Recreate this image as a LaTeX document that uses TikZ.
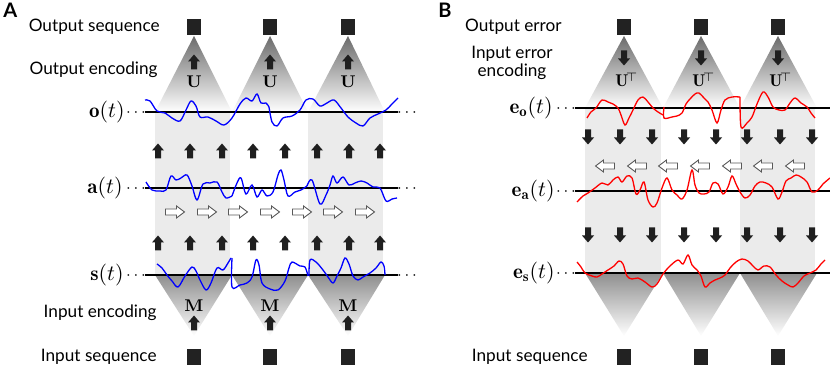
\documentclass[tikz,border=0pt]{standalone}
\usepackage{fontspec}
\setsansfont{Lato}
\begin{document}
\begin{tikzpicture}[x=0.5pt,y=-0.5pt]
\useasboundingbox (0,0) rectangle (830,368);
\definecolor{colgray}{HTML}{EBEBEB}
\definecolor{sqcol}{HTML}{222222}
\tikzset{
  lbl/.style={font=\sffamily\fontsize{8.6}{10}\selectfont, anchor=east, inner sep=0pt},
  mlbl/.style={font=\fontsize{10.5}{12}\selectfont, anchor=east, inner sep=0pt},
  seqsq/.style={fill=sqcol, minimum width=7pt, minimum height=8pt, inner sep=0pt},
  bcurve/.style={blue, line width=0.65pt, smooth, tension=0.55},
  rcurve/.style={red, line width=0.65pt, smooth, tension=0.55},
  axline/.style={black, line width=0.75pt},
  blk/.style={fill=black!88},
  hol/.style={fill=white, draw=black!65, line width=0.45pt},
  dotlbl/.style={inner sep=0pt, font=\fontsize{8}{10}\selectfont, anchor=base},
  toptri/.style={top color=black!58, bottom color=white},
  bottri/.style={top color=black!44, bottom color=white},
}
\newcommand{\UpBlk}[2]{\fill[blk] (#1,#2) ++(0,-7.5) -- ++(6,7) -- ++(-3,0) -- ++(0,8) -- ++(-6,0) -- ++(0,-8) -- ++(-3,0) -- cycle;}
\newcommand{\DnBlk}[2]{\fill[blk] (#1,#2) ++(0,7.5) -- ++(6,-7) -- ++(-3,0) -- ++(0,-8) -- ++(-6,0) -- ++(0,8) -- ++(-3,0) -- cycle;}
\newcommand{\RtHol}[2]{\filldraw[hol] (#1,#2) ++(-9.5,-3) -- ++(11,0) -- ++(0,-3) -- ++(8,6) -- ++(-8,6) -- ++(0,-3) -- ++(-11,0) -- cycle;}
\newcommand{\LtHol}[2]{\filldraw[hol] (#1,#2) ++(9.5,-3) -- ++(-11,0) -- ++(0,-3) -- ++(-8,6) -- ++(8,6) -- ++(0,-3) -- ++(11,0) -- cycle;}

% ================= PANEL A =================
\node[font=\sffamily\bfseries\fontsize{10}{12}\selectfont, anchor=north west, inner sep=0pt] (labA) at (3,3) {A};
\fill[colgray] (155,112) rectangle (230,275);
\fill[colgray] (308,112) rectangle (383,275);
\foreach \c/\l/\r in {194/155/232, 270/232/308, 348/308/385}{
  \shade[toptri] (\c,36) -- (\r,112) -- (\l,112) -- cycle;
  \shade[bottri] (\l,275) -- (\r,275) -- (\c,336) -- cycle;
}
\foreach \c [count=\i] in {194,270,348}{
  \node[seqsq] (oA\i) at (\c,27) {};
  \node[seqsq] (iA\i) at (\c,357) {};
  \node[font=\bfseries\fontsize{8.5}{10}\selectfont] (UA\i) at (\c,82) {U};
  \node[font=\bfseries\fontsize{8.5}{10}\selectfont] (MA\i) at (\c,306) {M};
  \UpBlk{\c}{62}
  \UpBlk{\c}{323}
}
\node[lbl] (tOS) at (160,27) {Output sequence};
\node[lbl] (tOE) at (158,70) {Output encoding};
\node[lbl] (tIE) at (157,313) {Input encoding};
\node[lbl] (tIS) at (157,357) {Input sequence};
\draw[axline] (145,112) -- (398,112);
\draw[axline] (145,188) -- (398,188);
\draw[axline] (145,275) -- (398,275);
\node[mlbl] (lo) at (125,112) {$\mathbf{o}(t)$};
\node[mlbl] (la) at (123,188) {$\mathbf{a}(t)$};
\node[mlbl] (ls) at (124,275) {$\mathbf{s}(t)$};
\foreach \yy in {112,188,275}{
  \node[dotlbl] at (136,\yy+5) {$\cdots$};
  \node[dotlbl] at (407,\yy+5) {$\cdots$};
}
\foreach \x in {158,190,222,253,285,317,349,380}{
  \UpBlk{\x}{151}
  \UpBlk{\x}{243}
}
\foreach \x in {175,207,238,270,302,333,365}{
  \RtHol{\x}{212}
}
\draw[bcurve] plot coordinates {(145,100) (150,101) (157,111) (165,113) (172,118) (180,121) (186,110) (191,101) (196,106) (200,117) (208,117) (216,121) (224,125) (232,118) (240,104) (246,98) (252,101) (257,94) (261,103) (266,103) (269,107)};
\draw[bcurve] plot coordinates {(269,107) (272,122) (277,126) (283,118) (292,116) (300,110) (306,100) (313,99) (320,106) (327,103) (334,100) (341,108) (348,117) (356,123) (363,126) (370,118) (378,114) (386,110) (392,104) (398,98)};
\draw[bcurve] plot coordinates {(146,182) (152,190) (160,191) (166,190) (171,176) (176,180) (181,178) (187,175) (192,186) (197,200) (203,184) (210,183) (217,182) (222,192) (226,198) (232,196)};
\draw[bcurve] plot coordinates {(232,196) (237,183) (241,178) (246,194) (252,185) (257,197) (262,190) (267,196) (273,192) (278,175) (281,170) (284,180) (288,196) (295,192) (301,190) (307,186)};
\draw[bcurve] plot coordinates {(307,186) (312,180) (320,204) (326,195) (330,185) (333,176) (337,183) (343,177) (349,185) (355,183) (361,181) (367,183) (373,187) (380,188) (386,201) (392,199) (397,198)};
\draw[bcurve] plot coordinates {(157,264) (162,268) (167,275) (172,281) (178,287) (185,276) (192,267) (196,271) (200,280) (206,290) (211,283) (217,268) (223,270) (228,263) (231,258)};
\draw[bcurve] plot coordinates {(232,258) (232,287) (240,285) (247,283) (252,277) (256,260) (259,265) (262,283) (270,289) (278,290) (285,281) (289,268) (292,262) (300,266) (305,267) (308,276)};
\draw[bcurve] plot coordinates {(309,276) (310,260) (316,262) (323,270) (328,277) (333,283) (337,276) (341,268) (345,258) (349,264) (353,276) (358,280) (363,277) (370,273) (376,268) (381,262) (384,266) (385,275)};

% ================= PANEL B =================
\node[font=\sffamily\bfseries\fontsize{10}{12}\selectfont, anchor=north west, inner sep=0pt] (labB) at (438,3) {B};
\fill[colgray] (585,108) rectangle (661,273);
\fill[colgray] (740,108) rectangle (815,273);
\foreach \c/\l/\r in {624/585/663, 701/663/740, 778/740/817}{
  \shade[toptri] (\c,36) -- (\r,108) -- (\l,108) -- cycle;
  \shade[bottri] (\l,273) -- (\r,273) -- (\c,336) -- cycle;
}
\foreach \c [count=\i] in {624,701,778}{
  \node[seqsq] (oB\i) at (\c,27) {};
  \node[seqsq] (iB\i) at (\c,357) {};
  \node[font=\fontsize{8.5}{10}\selectfont] (UB\i) at (\c+3,80) {$\mathbf{U}^{\!\top}$};
  \DnBlk{\c}{58}
}
\node[lbl] (tOErr) at (562,27) {Output error};
\node[font=\sffamily\fontsize{8.6}{9.2}\selectfont, align=center, inner sep=0pt] (tIEE) at (512,63) {Input error\\encoding};
\node[lbl] (tISB) at (588,357) {Input sequence};
\draw[axline] (575,108) -- (830,108);
\draw[axline] (575,191) -- (830,191);
\draw[axline] (575,273) -- (830,273);
\node[mlbl] (leo) at (553,108) {$\mathbf{e}_{\mathbf{o}}(t)$};
\node[mlbl] (lea) at (555,191) {$\mathbf{e}_{\mathbf{a}}(t)$};
\node[mlbl] (les) at (555,273) {$\mathbf{e}_{\mathbf{s}}(t)$};
\foreach \yy in {108,191,273}{
  \node[dotlbl] at (566,\yy+5) {$\cdots$};
}
\foreach \x in {588,620,652,684,716,747,780,812}{
  \DnBlk{\x}{137}
  \DnBlk{\x}{235}
}
\foreach \x in {605,637,668,700,732,763,795}{
  \LtHol{\x}{166}
}
\draw[rcurve] plot coordinates {(587,118) (591,112) (596,108) (602,100) (608,102) (613,104) (618,108) (621,115) (625,125) (629,118) (633,110) (638,100) (643,97) (648,102) (653,108) (658,112) (663,115)};
\draw[rcurve] plot coordinates {(664,107) (664,118) (672,117) (677,116) (682,113) (686,104) (690,99) (695,94) (699,93) (704,98) (708,102) (712,110) (717,123) (721,110) (725,100) (732,97) (740,97)};
\draw[rcurve] plot coordinates {(740,97) (741,127) (747,123) (752,117) (757,104) (763,92) (768,97) (773,107) (779,110) (785,110) (790,103) (795,98) (801,103) (807,107) (811,113) (815,118)};
\draw[rcurve] plot coordinates {(577,202) (583,196) (588,193) (595,188) (602,183) (608,185) (613,180) (618,177) (622,182) (627,176) (632,178) (636,194) (640,190) (644,182) (648,200) (653,207) (657,203) (662,188) (667,178) (672,190) (677,195) (682,199) (687,190) (692,170) (695,185) (699,193) (704,194) (709,192) (713,183) (718,184) (723,194) (728,187) (732,176) (736,184) (740,192) (745,198) (750,195) (755,186) (760,182) (766,183) (772,187) (778,199) (782,192) (786,181) (791,178) (796,175) (801,177) (807,182) (812,192) (818,190) (823,184) (830,178)};
\draw[rcurve] plot coordinates {(577,262) (581,267) (585,273) (592,276) (597,277) (602,274) (608,270) (614,266) (619,261) (623,264) (627,276) (632,279) (638,278) (645,282) (652,287) (657,284) (663,274) (670,266) (678,260) (683,264) (688,255) (692,265) (697,270) (701,276) (705,287) (710,283) (715,280) (720,278) (725,275) (730,268) (736,262) (742,259) (748,261) (753,266) (758,270) (764,266) (770,267) (776,275) (782,281) (788,285) (793,287) (798,283) (804,276) (810,273) (816,270) (821,264) (825,260)};
\end{tikzpicture}
\end{document}
